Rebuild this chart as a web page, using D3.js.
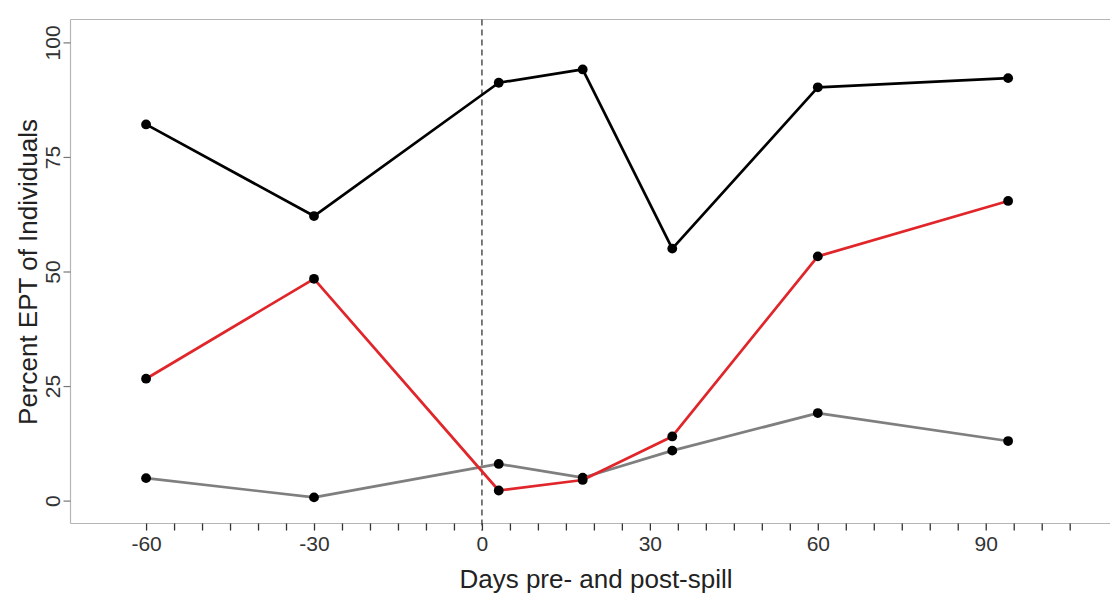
<!DOCTYPE html>
<html>
<head>
<meta charset="utf-8">
<script src="https://cdn.jsdelivr.net/npm/d3@7"></script>
<style>
  html, body { margin: 0; padding: 0; background: #fff; }
  svg text { font-family: "Liberation Sans", Arial, sans-serif; }
</style>
</head>
<body>
<svg id="chart" width="1110" height="594"></svg>
<script>
// Percent EPT of individuals, before and after the spill (day 0).
const days = [-60, -30, 3, 18, 34, 60, 94];
const seriesBlack = [82.1, 62.1, 91.2, 94.1, 55.0, 90.2, 92.2];
const seriesRed = [26.6, 48.4, 2.2, 4.5, 14.0, 53.3, 65.4];
const seriesGray = [4.9, 0.7, 8.0, 5.0, 10.9, 19.1, 13.0];
const yTicks = [0, 25, 50, 75, 100];
const xTicks = d3.range(-60, 106, 5);
const spillDay = 0;

(function drawChart() {
  "use strict";

  const svg = d3.select("#chart");
  const left = 70.5;
  const right = 1110;
  const top = 19.5;
  const bottom = 523.5;

  const x = d3.scaleLinear().domain([-73.5, 112.2]).range([left, right]);
  const y = d3.scaleLinear().domain([-5, 105]).range([bottom, top]);

  // frame: left, top and bottom lines only
  const frame = svg.append("g").attr("stroke", "#b5b5b5").attr("stroke-width", 1.2);
  frame.append("line").attr("x1", left).attr("x2", left).attr("y1", top).attr("y2", bottom);
  frame.append("line").attr("x1", left).attr("x2", right).attr("y1", top).attr("y2", top);
  frame.append("line").attr("x1", left).attr("x2", right).attr("y1", bottom).attr("y2", bottom);

  // y axis
  const yAxis = svg.append("g")
    .attr("transform", "translate(" + left + ",0)")
    .call(d3.axisLeft(y).tickValues(yTicks).tickSize(7).tickSizeOuter(0));
  yAxis.select(".domain").remove();
  yAxis.selectAll(".tick line").attr("stroke", "#777").attr("stroke-width", 1.2);
  yAxis.selectAll(".tick text")
    .attr("x", 0)
    .attr("dy", 0)
    .attr("transform", "translate(-11,0) rotate(-90)")
    .attr("text-anchor", "middle")
    .attr("fill", "#333")
    .style("font-size", "21px");

  // x axis, minor ticks every 5 days, labels every 30
  const xAxis = svg.append("g")
    .attr("transform", "translate(0," + bottom + ")")
    .call(d3.axisBottom(x)
      .tickValues(xTicks)
      .tickSize(7)
      .tickSizeOuter(0)
      .tickFormat(function label(d) { return d % 30 === 0 ? d : ""; }));
  xAxis.select(".domain").remove();
  xAxis.selectAll(".tick line").attr("stroke", "#333").attr("stroke-width", 1.3);
  xAxis.selectAll(".tick text")
    .attr("y", 13)
    .attr("dy", "0.71em")
    .attr("fill", "#333")
    .style("font-size", "21px");

  // spill day marker
  svg.append("line")
    .attr("x1", x(spillDay)).attr("x2", x(spillDay))
    .attr("y1", top).attr("y2", bottom + 7)
    .attr("stroke", "#444")
    .attr("stroke-width", 1.4)
    .attr("stroke-dasharray", "6,4");

  const line = d3.line()
    .x(function px(d) { return x(d[0]); })
    .y(function py(d) { return y(d[1]); });

  const series = [
    { values: seriesGray, color: "#7f7f7f" },
    { values: seriesRed, color: "#e0262a" },
    { values: seriesBlack, color: "#000000" }
  ];

  series.forEach(function drawSeries(s) {
    const pts = days.map(function pair(d, i) { return [d, s.values[i]]; });
    svg.append("path")
      .datum(pts)
      .attr("fill", "none")
      .attr("stroke", s.color)
      .attr("stroke-width", 2.7)
      .attr("stroke-linejoin", "round")
      .attr("d", line);
    svg.selectAll(null)
      .data(pts)
      .enter()
      .append("circle")
      .attr("cx", function cx(d) { return x(d[0]); })
      .attr("cy", function cy(d) { return y(d[1]); })
      .attr("r", 4.9)
      .attr("fill", "#000");
  });

  // axis titles
  svg.append("text")
    .attr("x", 596)
    .attr("y", 588)
    .attr("text-anchor", "middle")
    .attr("fill", "#222")
    .style("font-size", "26px")
    .text("Days pre- and post-spill");

  svg.append("text")
    .attr("transform", "translate(37," + 272 + ") rotate(-90)")
    .attr("text-anchor", "middle")
    .attr("fill", "#222")
    .style("font-size", "26px")
    .text("Percent EPT of Individuals");
})();
</script>
</body>
</html>
